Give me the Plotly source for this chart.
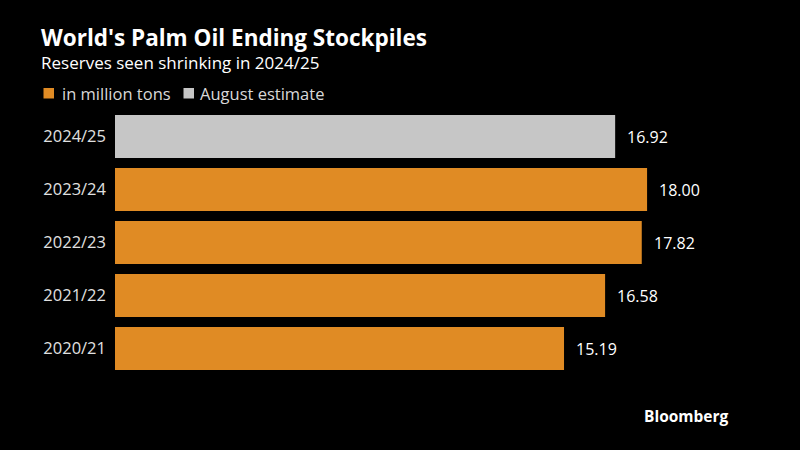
import plotly.graph_objects as go

hist_years = ["2020/21", "2021/22", "2022/23", "2023/24"]
hist_values = [15.19, 16.58, 17.82, 18.00]
est_years = ["2024/25"]
est_values = [16.92]
category_order = ["2020/21", "2021/22", "2022/23", "2023/24", "2024/25"]

ORANGE = "#E08B24"
GREY = "#C6C6C6"
FONT = "Open Sans"

L, R, T, B = 115, 40, 110, 75
PW, PH = 800 - L - R, 450 - T - B


def px_x(x):
    return (x - L) / PW


def px_y(y):
    return (450 - B - y) / PH


fig = go.Figure()
fig.add_trace(go.Bar(
    y=hist_years, x=hist_values, orientation="h", name="in million tons",
    marker=dict(color=ORANGE, line=dict(width=0)), showlegend=False,
))
fig.add_trace(go.Bar(
    y=est_years, x=est_values, orientation="h", name="August estimate",
    marker=dict(color=GREY, line=dict(width=0)), showlegend=False,
))

annotations = []
for yrs, vals in ((hist_years, hist_values), (est_years, est_values)):
    for yv, xv in zip(yrs, vals):
        annotations.append(dict(
            x=xv, y=yv, xref="x", yref="y", text=f"{xv:.2f}", showarrow=False,
            xanchor="left", yanchor="middle", xshift=10,
            font=dict(size=16, color="#FFFFFF", family=FONT)))

annotations += [
    dict(text="<b>World's Palm Oil Ending Stockpiles</b>", xref="paper", yref="paper",
         x=px_x(39), y=px_y(37), xanchor="left", yanchor="middle", showarrow=False,
         font=dict(size=22.5, color="#FFFFFF", family=FONT)),
    dict(text="Reserves seen shrinking in 2024/25", xref="paper", yref="paper",
         x=px_x(39), y=px_y(62), xanchor="left", yanchor="middle", showarrow=False,
         font=dict(size=17, color="#FFFFFF", family=FONT)),
    dict(text="in million tons", xref="paper", yref="paper",
         x=px_x(60), y=px_y(93), xanchor="left", yanchor="middle", showarrow=False,
         font=dict(size=16.5, color="#D8D8D8", family=FONT)),
    dict(text="August estimate", xref="paper", yref="paper",
         x=px_x(198), y=px_y(93), xanchor="left", yanchor="middle", showarrow=False,
         font=dict(size=16.5, color="#D8D8D8", family=FONT)),
    dict(text="<b>Bloomberg</b>", xref="paper", yref="paper",
         x=px_x(731), y=px_y(416), xanchor="right", yanchor="middle",
         showarrow=False, font=dict(size=15.5, color="#FFFFFF", family=FONT)),
]

shapes = [
    dict(type="rect", xref="paper", yref="paper", x0=px_x(43.5), x1=px_x(54),
         y0=px_y(98.5), y1=px_y(88), fillcolor=ORANGE, line=dict(width=0)),
    dict(type="rect", xref="paper", yref="paper", x0=px_x(183.5), x1=px_x(194),
         y0=px_y(98.5), y1=px_y(88), fillcolor=GREY, line=dict(width=0)),
]

fig.update_layout(
    width=800, height=450,
    paper_bgcolor="#000000", plot_bgcolor="#000000",
    margin=dict(l=L, r=R, t=T, b=B),
    barmode="overlay", bargap=0.19,
    font=dict(family=FONT, color="#FFFFFF"),
    showlegend=False,
    xaxis=dict(range=[0, PW / 29.56], visible=False, fixedrange=True),
    yaxis=dict(categoryorder="array", categoryarray=category_order,
               showgrid=False, zeroline=False, showline=False, ticks="",
               ticklabelstandoff=8, fixedrange=True,
               tickfont=dict(size=16.5, color="#E0E0E0", family=FONT)),
    annotations=annotations,
    shapes=shapes,
)

fig.write_html("out.html", config={"displayModeBar": False},
               post_script="document.body.style.margin='0';document.body.style.background='#000';")
